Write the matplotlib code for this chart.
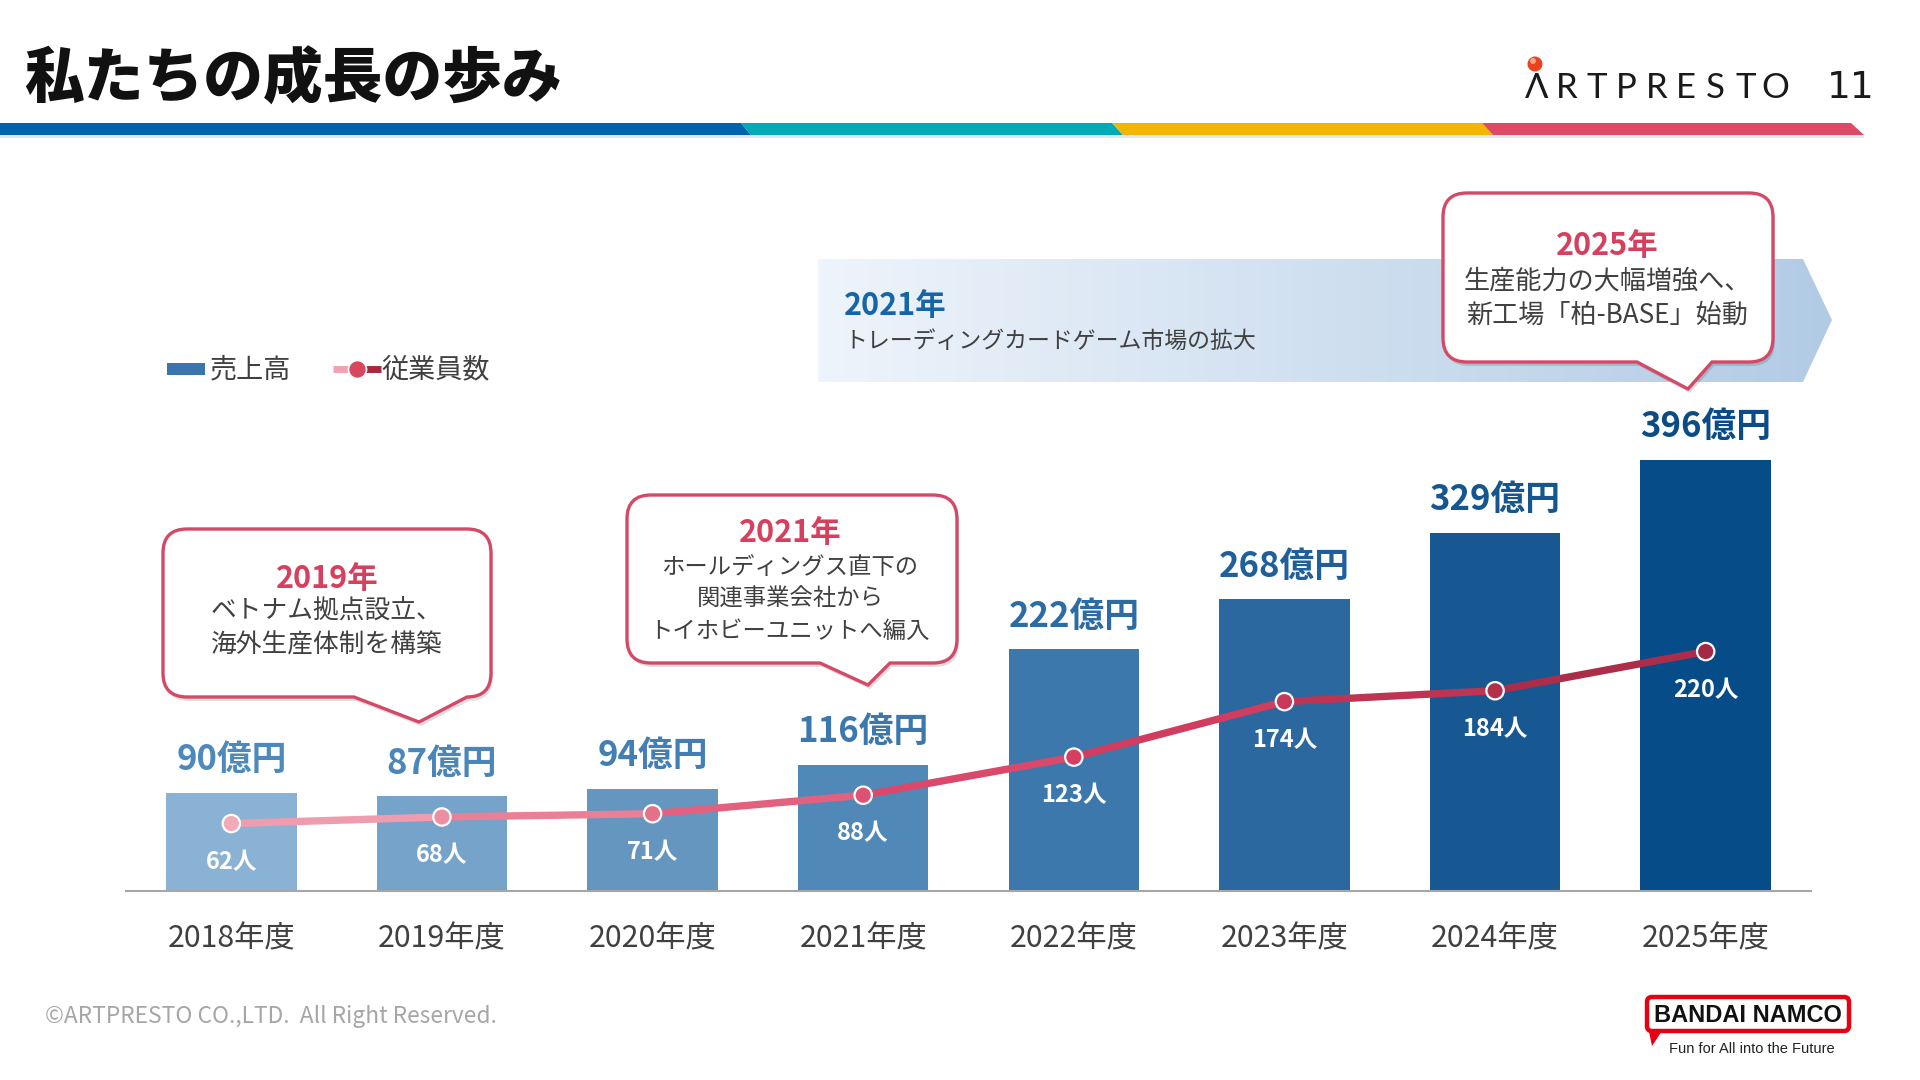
import numpy as np
import matplotlib
matplotlib.use("Agg")
import matplotlib.pyplot as plt
import matplotlib.colors as mcolors
from matplotlib.path import Path
from matplotlib.patches import PathPatch, Polygon, Rectangle, FancyBboxPatch, Circle
from matplotlib.collections import LineCollection
from matplotlib.colors import LinearSegmentedColormap

plt.rcParams['font.family'] = ['Noto Sans CJK JP', 'DejaVu Sans']

# data
years = ["2018年度", "2019年度", "2020年度", "2021年度",
         "2022年度", "2023年度", "2024年度", "2025年度"]
sales = [90, 87, 94, 116, 222, 268, 329, 396]      # 億円
staff = [62, 68, 71, 88, 123, 174, 184, 220]       # 人

# styles
bar_colors = ["#8AB2D4", "#75A3C9", "#6496C0", "#5088B8",
              "#3C78AB", "#2A689F", "#175893", "#064C88"]
label_colors = ["#4D89BC", "#4A86BA", "#437FB4", "#3B78AE",
                "#2C6CA4", "#20609A", "#16568F", "#0C4C86"]
line_colors = ["#F2A9B8", "#EC8FA3", "#E5708A", "#DE5273",
               "#D63F62", "#C93A5A", "#B3304D", "#A32A45"]
PINK = "#D6405E"
GRAY = "#404040"

W, H = 1920, 1080
fig = plt.figure(figsize=(W / 100, H / 100), dpi=100)

# ---- main chart (bars + employee line on the same scale)
base_y = 891
px_per_unit = 1.0884
ax = fig.add_axes([126 / W, (H - base_y) / H, (1811 - 126) / W, 400 * px_per_unit / H])
x = np.arange(len(years))
ax.bar(x, sales, width=0.62, color=bar_colors, zorder=2)
ax.set_xlim(-0.5, 7.5)
ax.set_ylim(0, 400)
for s in ["top", "right", "left"]:
    ax.spines[s].set_visible(False)
ax.spines["bottom"].set_color("#A6A6A6")
ax.spines["bottom"].set_linewidth(1.5)
ax.set_yticks([])
ax.set_xticks([])

pts = np.column_stack([x, staff])
segs = np.stack([pts[:-1], pts[1:]], axis=1)
seg_colors = [(np.array(mcolors.to_rgb(line_colors[i])) + np.array(mcolors.to_rgb(line_colors[i + 1]))) / 2
              for i in range(len(staff) - 1)]
lc = LineCollection(segs, colors=seg_colors, linewidths=5.3, capstyle="round", zorder=3)
ax.add_collection(lc)
ax.scatter(x, staff, s=12.5 ** 2, c=line_colors, edgecolors="white", linewidths=1.6, zorder=4)

for i in range(len(years)):
    ax.annotate(f"{sales[i]}億円", (x[i], sales[i]), xytext=(0, 24), textcoords="offset points",
                ha="center", va="center", fontsize=25, fontweight="bold", color=label_colors[i],
                annotation_clip=False)
    ax.annotate(f"{staff[i]}人", (x[i], staff[i]), xytext=(0, -27.5), textcoords="offset points",
                ha="center", va="center", fontsize=17, fontweight="bold", color="white", zorder=5)
    ax.annotate(years[i], (x[i], 0), xytext=(0, -34.5), textcoords="offset points",
                ha="center", va="center", fontsize=21.8, color=GRAY, annotation_clip=False)

# ---- overlay in pixel coordinates (y down)
ov = fig.add_axes([0, 0, 1, 1], zorder=5)
ov.axis("off")

# title
ov.text(24, 80, "私たちの成長の歩み", fontsize=43, fontweight="black", color="#111111",
        ha="left", va="center")

# header stripe
stripe = [("#0064AD", 0, 741, 0, 751), ("#00ABB6", 741, 1112, 751, 1123),
          ("#F2B600", 1112, 1482, 1123, 1493), ("#DD4A65", 1482, 1851, 1493, 1864)]
for col, tl, tr, bl, br in stripe:
    ov.add_patch(Polygon([(tl, 123), (tr, 123), (br, 135), (bl, 135)], closed=True,
                         facecolor=col, edgecolor="none"))
ov.add_patch(Rectangle((0, 135), 1864, 2.5, facecolor="#DCE8F3", edgecolor="none"))

# logo + page number
for k, ch in enumerate("ΛRTPRESTO"):
    ov.text(1537 + 29.8 * k, 88, ch, fontsize=25, color="#1A1A1A", ha="center", va="center",
            family=["Lato", "DejaVu Sans"])
ov.add_patch(Circle((1535, 64), 7.5, facecolor="#E8431F", edgecolor="none"))
ov.add_patch(Circle((1533, 61), 3, facecolor="#F6A585", edgecolor="none"))
ov.text(1851, 88, "11", fontsize=27, color="#1A1A1A", ha="center", va="center",
        family="DejaVu Sans")

# legend
ov.add_patch(Rectangle((167, 363), 38, 12, facecolor="#3A76AD", edgecolor="none"))
ov.text(210, 370, "売上高", fontsize=19.5, color=GRAY, ha="left", va="center")
ov.plot([333, 357], [369, 369], color="#F0A2B2", lw=5, solid_capstyle="butt")
ov.plot([357, 381], [369, 369], color="#A8283F", lw=5, solid_capstyle="butt")
ov.plot([357], [369], marker="o", ms=13, mfc="#D9475F", mec="white", mew=1.2)
ov.text(381, 370, "従業員数", fontsize=19.5, color=GRAY, ha="left", va="center")

# banner arrow with gradient
band_verts = [(818, 259), (1803, 259), (1832, 320), (1803, 382), (818, 382)]
band = Polygon(band_verts, closed=True, facecolor="none", edgecolor="none")
ov.add_patch(band)
grad = np.linspace(0, 1, 256).reshape(1, -1)
band_cmap = LinearSegmentedColormap.from_list("band", ["#EEF4FB", "#B2CBE5"])
im = ov.imshow(grad, extent=[818, 1832, 382, 259], cmap=band_cmap, aspect="auto", zorder=1)
im.set_clip_path(band)
ov.text(844, 306, "2021年", fontsize=22, fontweight="bold", color="#1565A8", ha="left", va="center")
ov.text(844, 341, "トレーディングカードゲーム市場の拡大", fontsize=16.5, color=GRAY,
        ha="left", va="center")


def callout(x0, y0, x1, y1, tl, tip, tr, r=24, z=3):
    tr = min(tr, x1 - r)
    verts = [(x0 + r, y0), (x1 - r, y0), (x1, y0), (x1, y0 + r), (x1, y1 - r), (x1, y1),
             (x1 - r, y1), (tr, y1), tip, (tl, y1), (x0 + r, y1), (x0, y1), (x0, y1 - r),
             (x0, y0 + r), (x0, y0), (x0 + r, y0), (x0 + r, y0)]
    codes = [Path.MOVETO, Path.LINETO, Path.CURVE3, Path.CURVE3, Path.LINETO, Path.CURVE3,
             Path.CURVE3, Path.LINETO, Path.LINETO, Path.LINETO, Path.LINETO, Path.CURVE3,
             Path.CURVE3, Path.LINETO, Path.CURVE3, Path.CURVE3, Path.CLOSEPOLY]
    shadow = [(vx + 2, vy + 4) for vx, vy in verts]
    ov.add_patch(PathPatch(Path(shadow, codes), facecolor="#000000", alpha=0.13,
                           edgecolor="none", zorder=z))
    ov.add_patch(PathPatch(Path(verts, codes), facecolor="white", edgecolor="#D44A66",
                           lw=2.4, zorder=z + 0.1))


callouts = [
    (163, 529, 491, 697, 354, (419, 722), 475, 327, [579, 612, 645], 18.5,
     "2019年", ["ベトナム拠点設立、", "海外生産体制を構築"]),
    (627, 495, 957, 663, 820, (868, 685), 890, 790, [533, 567, 599, 631], 16.8,
     "2021年", ["ホールディングス直下の", "関連事業会社から", "トイホビーユニットへ編入"]),
    (1443, 193, 1773, 362, 1637, (1688, 389), 1712, 1607, [246, 281, 315], 18.8,
     "2025年", ["生産能力の大幅増強へ、", "新工場「柏-BASE」始動"]),
]
for x0, y0, x1, y1, tl, tip, tr, cx, ys, fs, head, lines in callouts:
    callout(x0, y0, x1, y1, tl, tip, tr)
    ov.text(cx, ys[0], head, fontsize=22, fontweight="bold", color=PINK,
            ha="center", va="center", zorder=4)
    for yy, t in zip(ys[1:], lines):
        ov.text(cx, yy, t, fontsize=fs, color=GRAY, ha="center", va="center", zorder=4)

# footer
ov.text(45, 1016, "©ARTPRESTO CO.,LTD.  All Right Reserved.", fontsize=16.4, color="#A6A6A6",
        ha="left", va="center")
ov.add_patch(Polygon([(1647, 1022), (1652, 1046), (1662, 1031)], closed=True,
                     facecolor="#E60012", edgecolor="none"))
ov.add_patch(FancyBboxPatch((1647, 997), 202, 34, boxstyle="round,pad=0,rounding_size=5",
                            facecolor="white", edgecolor="#E60012", lw=3.2))
ov.text(1748, 1015, "BANDAI NAMCO", fontsize=17, fontweight="bold", color="#111111",
        ha="center", va="center", family="Liberation Sans", stretch="condensed")
ov.text(1752, 1049, "Fun for All into the Future", fontsize=10.5, color="#222222",
        ha="center", va="center", family="Liberation Sans")

ov.set_xlim(0, W)
ov.set_ylim(H, 0)

fig.savefig("out.png", dpi=100, facecolor="white")
